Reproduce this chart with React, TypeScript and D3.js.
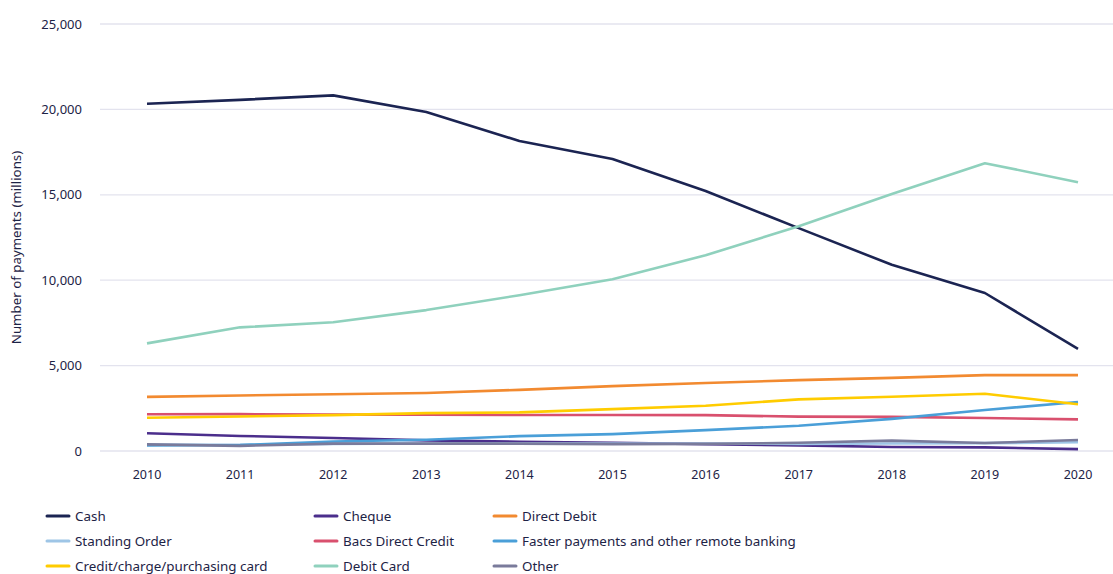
import React from "react";
import * as d3 from "d3";

const years = [2010, 2011, 2012, 2013, 2014, 2015, 2016, 2017, 2018, 2019, 2020];
const yTicks = [0, 5000, 10000, 15000, 20000, 25000];

const cash = [20330, 20560, 20820, 19850, 18150, 17100, 15220, 13050, 10900, 9250, 5980];
const cheque = [1035, 880, 760, 620, 540, 480, 400, 330, 230, 210, 110];
const directDebit = [3170, 3250, 3320, 3400, 3580, 3800, 3980, 4150, 4280, 4440, 4440];
const standingOrder = [380, 360, 420, 440, 450, 440, 430, 420, 440, 460, 510];
const bacs = [2150, 2160, 2130, 2120, 2110, 2110, 2100, 2010, 2000, 1930, 1850];
const faster = [330, 350, 560, 660, 870, 990, 1220, 1480, 1880, 2400, 2870];
const credit = [1950, 2020, 2100, 2220, 2260, 2450, 2650, 3020, 3180, 3350, 2740];
const debitCard = [6300, 7240, 7540, 8250, 9120, 10060, 11460, 13160, 15050, 16850, 15740];
const other = [390, 300, 430, 430, 430, 400, 420, 480, 610, 470, 640];

const seriesNames = [
  "Cash", "Cheque", "Direct Debit",
  "Standing Order", "Bacs Direct Credit", "Faster payments and other remote banking",
  "Credit/charge/purchasing card", "Debit Card", "Other",
];
const seriesValues = [cash, cheque, directDebit, standingOrder, bacs, faster, credit, debitCard, other];
const seriesColors = [
  "#1b2452", "#4b2e8c", "#f28a30",
  "#9ec5e6", "#d9506e", "#4a9fd8",
  "#ffcc00", "#8fd1bd", "#7a7b9b",
];

const W = 1113;
const H = 574;
const textColor = "#1d2346";
const font = "'Noto Sans', 'Open Sans', sans-serif";

export default function App() {
  const x = d3.scaleLinear().domain([2010, 2020]).range([147, 1078]);
  const y = d3.scaleLinear().domain([0, 25000]).range([451, 24]);
  const line = d3
    .line<number>()
    .x((_, i) => x(years[i]))
    .y((d) => y(d));

  const legendCols = [47, 315, 494];
  const legendRows = [516, 541, 566];

  return (
    <svg
      width={W}
      height={H}
      style={{ position: "absolute", left: 0, top: 0, background: "#fff" }}
      fontFamily={font}
    >
      {yTicks.map((t) => (
        <g key={t}>
          <line x1={100} x2={W} y1={y(t)} y2={y(t)} stroke="#e3e3ee" strokeWidth={1.3} />
          <text x={82} y={y(t)} dy="0.35em" textAnchor="end" fontSize={13} fill={textColor}>
            {d3.format(",")(t)}
          </text>
        </g>
      ))}
      <text
        transform={`translate(21,${y(12500) + 10}) rotate(-90)`}
        textAnchor="middle"
        fontSize={13.3}
        fill={textColor}
      >
        Number of payments (millions)
      </text>
      {years.map((yr) => (
        <text key={yr} x={x(yr)} y={475} dy="0.35em" textAnchor="middle" fontSize={12.5} fill={textColor}>
          {yr}
        </text>
      ))}
      {seriesValues.map((vals, i) => (
        <path
          key={seriesNames[i]}
          d={line(vals) || ""}
          fill="none"
          stroke={seriesColors[i]}
          strokeWidth={2.6}
          strokeLinejoin="round"
        />
      ))}
      {seriesNames.map((name, i) => {
        const cx = legendCols[i % 3];
        const cy = legendRows[Math.floor(i / 3)];
        return (
          <g key={name}>
            <line x1={cx} x2={cx + 22} y1={cy} y2={cy} stroke={seriesColors[i]} strokeWidth={3} strokeLinecap="round" />
            <text x={cx + 28} y={cy} dy="0.35em" fontSize={13.4} fill={textColor}>
              {name}
            </text>
          </g>
        );
      })}
    </svg>
  );
}
